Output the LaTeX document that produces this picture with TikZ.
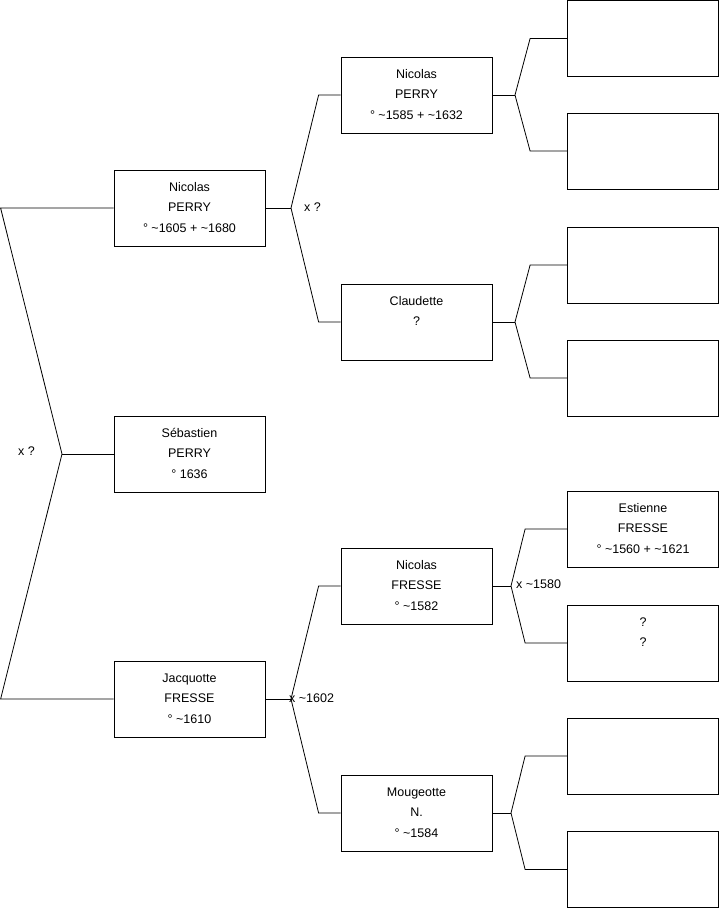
\documentclass[tikz,border=0pt]{standalone}
\usepackage{fontspec}
\setmainfont{Liberation Sans}
\usepackage{tikz}
\newcommand{\abt}{\textasciitilde}
\newcommand{\who}[1]{\parbox[c][76pt][t]{151pt}{\centering\rule{0pt}{21.5pt}#1}}

\begin{document}
\begin{tikzpicture}[x=1pt, y=-1pt,
  person/.style={draw, line width=0.8pt, inner sep=0pt, minimum width=151pt, minimum height=76pt, font=\fontsize{12.5}{20.3}\selectfont},
  union/.style={anchor=west, inner sep=0pt, font=\fontsize{12.5}{14}\selectfont},
  link/.style={line width=0.8pt}]
  \useasboundingbox (0,0) rectangle (719,908);
  % generation 1 and 2
  \node[person] (seb) at (189.5,454) {\who{Sébastien\\PERRY\\° 1636}};
  \node[person] (nicp) at (189.5,208) {\who{Nicolas\\PERRY\\° \abt1605 + \abt1680}};
  \node[person] (jac) at (189.5,699) {\who{Jacquotte\\FRESSE\\° \abt1610}};
  % generation 3
  \node[person] (nicpp) at (416.5,95) {\who{Nicolas\\PERRY\\° \abt1585 + \abt1632}};
  \node[person] (cla) at (416.5,322) {\who{Claudette\\?}};
  \node[person] (nicf) at (416.5,586) {\who{Nicolas\\FRESSE\\° \abt1582}};
  \node[person] (mou) at (416.5,813) {\who{Mougeotte\\N.\\° \abt1584}};
  % generation 4
  \node[person] (ga) at (643,38.5) {};
  \node[person] (gb) at (643,151) {};
  \node[person] (gc) at (643,265) {};
  \node[person] (gd) at (643,378) {};
  \node[person] (est) at (643,529) {\who{Estienne\\FRESSE\\° \abt1560 + \abt1621}};
  \node[person] (unk) at (643,643) {\who{?\\?}};
  \node[person] (gg) at (643,756) {};
  \node[person] (gh) at (643,869.5) {};
  % junctions
  \coordinate (ja) at (62,454);
  \coordinate (jb) at (291,208);
  \coordinate (jc) at (291,699);
  \coordinate (jd) at (515,95);
  \coordinate (je) at (515,322);
  \coordinate (jf) at (511,586);
  \coordinate (jg) at (511,813);
  \draw[link] (seb.west) -- (ja);
  \draw[link] (ja) -- ([xshift=-113pt]nicp.west) -- (nicp.west);
  \draw[link] (ja) -- ([xshift=-113pt]jac.west) -- (jac.west);
  \draw[link] (nicp.east) -- (jb);
  \draw[link] (jb) -- ([xshift=-22pt]nicpp.west) -- (nicpp.west);
  \draw[link] (jb) -- ([xshift=-22pt]cla.west) -- (cla.west);
  \draw[link] (jac.east) -- (jc);
  \draw[link] (jc) -- ([xshift=-22pt]nicf.west) -- (nicf.west);
  \draw[link] (jc) -- ([xshift=-22pt]mou.west) -- (mou.west);
  \draw[link] (nicpp.east) -- (jd);
  \draw[link] (jd) -- ([xshift=-37pt]ga.west) -- (ga.west);
  \draw[link] (jd) -- ([xshift=-37pt]gb.west) -- (gb.west);
  \draw[link] (cla.east) -- (je);
  \draw[link] (je) -- ([xshift=-37pt]gc.west) -- (gc.west);
  \draw[link] (je) -- ([xshift=-37pt]gd.west) -- (gd.west);
  \draw[link] (nicf.east) -- (jf);
  \draw[link] (jf) -- ([xshift=-42pt]est.west) -- (est.west);
  \draw[link] (jf) -- ([xshift=-42pt]unk.west) -- (unk.west);
  \draw[link] (mou.east) -- (jg);
  \draw[link] (jg) -- ([xshift=-42pt]gg.west) -- (gg.west);
  \draw[link] (jg) -- ([xshift=-42pt]gh.west) -- (gh.west);
  % unions
  \node[union] (ua) at (18,451) {x ?};
  \node[union] (ub) at (304,207) {x ?};
  \node[union] (uc) at (289,698) {x \abt1602};
  \node[union] (uf) at (516,584) {x \abt1580};
\end{tikzpicture}
\end{document}
